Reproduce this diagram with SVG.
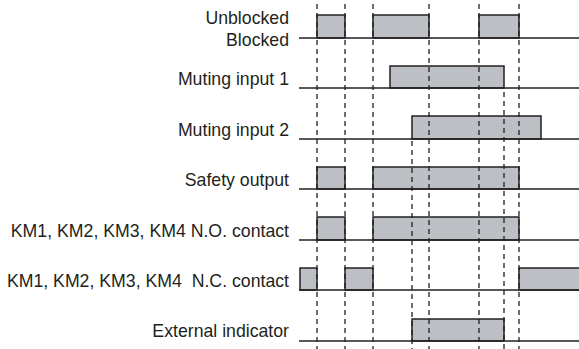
<svg xmlns="http://www.w3.org/2000/svg" width="579" height="349" viewBox="0 0 579 349">
<style>
.lbl{font-family:"Liberation Sans",Arial,sans-serif;font-size:17.7px;fill:#231f20;text-anchor:end;white-space:pre}
.p{fill:#bcc0c4;stroke:#231f20;stroke-width:1.5}
.b{stroke:#231f20;stroke-width:1.3;fill:none}
.d{stroke:#231f20;stroke-width:1.3;stroke-dasharray:5,4;fill:none}
</style>
<rect width="579" height="349" fill="#fff"/>
<g id="row-blocked">
<text class="lbl" x="289" y="24">Unblocked</text>
<text class="lbl" x="289" y="46">Blocked</text>
<rect class="p" x="317" y="15" width="28" height="23"/>
<rect class="p" x="373" y="15" width="56" height="23"/>
<rect class="p" x="479" y="15" width="40" height="23"/>
<line class="b" x1="299" y1="38" x2="579" y2="38"/>
</g>
<g id="row-mute1">
<text class="lbl" x="289" y="85">Muting input 1</text>
<rect class="p" x="390" y="66" width="114" height="22"/>
<line class="b" x1="299" y1="88" x2="579" y2="88"/>
</g>
<g id="row-mute2">
<text class="lbl" x="289" y="136">Muting input 2</text>
<rect class="p" x="412" y="116" width="129" height="23"/>
<line class="b" x1="299" y1="139" x2="579" y2="139"/>
</g>
<g id="row-safety">
<text class="lbl" x="289" y="186">Safety output</text>
<rect class="p" x="317" y="167" width="28" height="22"/>
<rect class="p" x="373" y="167" width="146" height="22"/>
<line class="b" x1="299" y1="189" x2="579" y2="189"/>
</g>
<g id="row-no">
<text class="lbl" x="289" y="237">KM1, KM2, KM3, KM4 N.O. contact</text>
<rect class="p" x="317" y="217" width="28" height="23"/>
<rect class="p" x="373" y="217" width="146" height="23"/>
<line class="b" x1="299" y1="240" x2="579" y2="240"/>
</g>
<g id="row-nc">
<text class="lbl" x="289" y="287">KM1, KM2, KM3, KM4  N.C. contact</text>
<rect class="p" x="300" y="268" width="17" height="22"/>
<rect class="p" x="345" y="268" width="28" height="22"/>
<path class="p" d="M519 290V268H580V290Z"/>
<line class="b" x1="299" y1="290" x2="579" y2="290"/>
</g>
<g id="row-ext">
<text class="lbl" x="289" y="337">External indicator</text>
<rect class="p" x="412" y="319" width="92" height="22"/>
<line class="b" x1="299" y1="341" x2="579" y2="341"/>
</g>
<g id="connectors">
<line class="d" x1="317" y1="4" x2="317" y2="349"/>
<line class="d" x1="345" y1="4" x2="345" y2="349"/>
<line class="d" x1="373" y1="4" x2="373" y2="349"/>
<line class="d" x1="429" y1="4" x2="429" y2="349"/>
<line class="d" x1="479" y1="4" x2="479" y2="349"/>
<line class="d" x1="519" y1="4" x2="519" y2="349"/>
<line class="d" x1="412" y1="141" x2="412" y2="349"/>
<line class="d" x1="504" y1="92" x2="504" y2="349"/>
</g>
</svg>
